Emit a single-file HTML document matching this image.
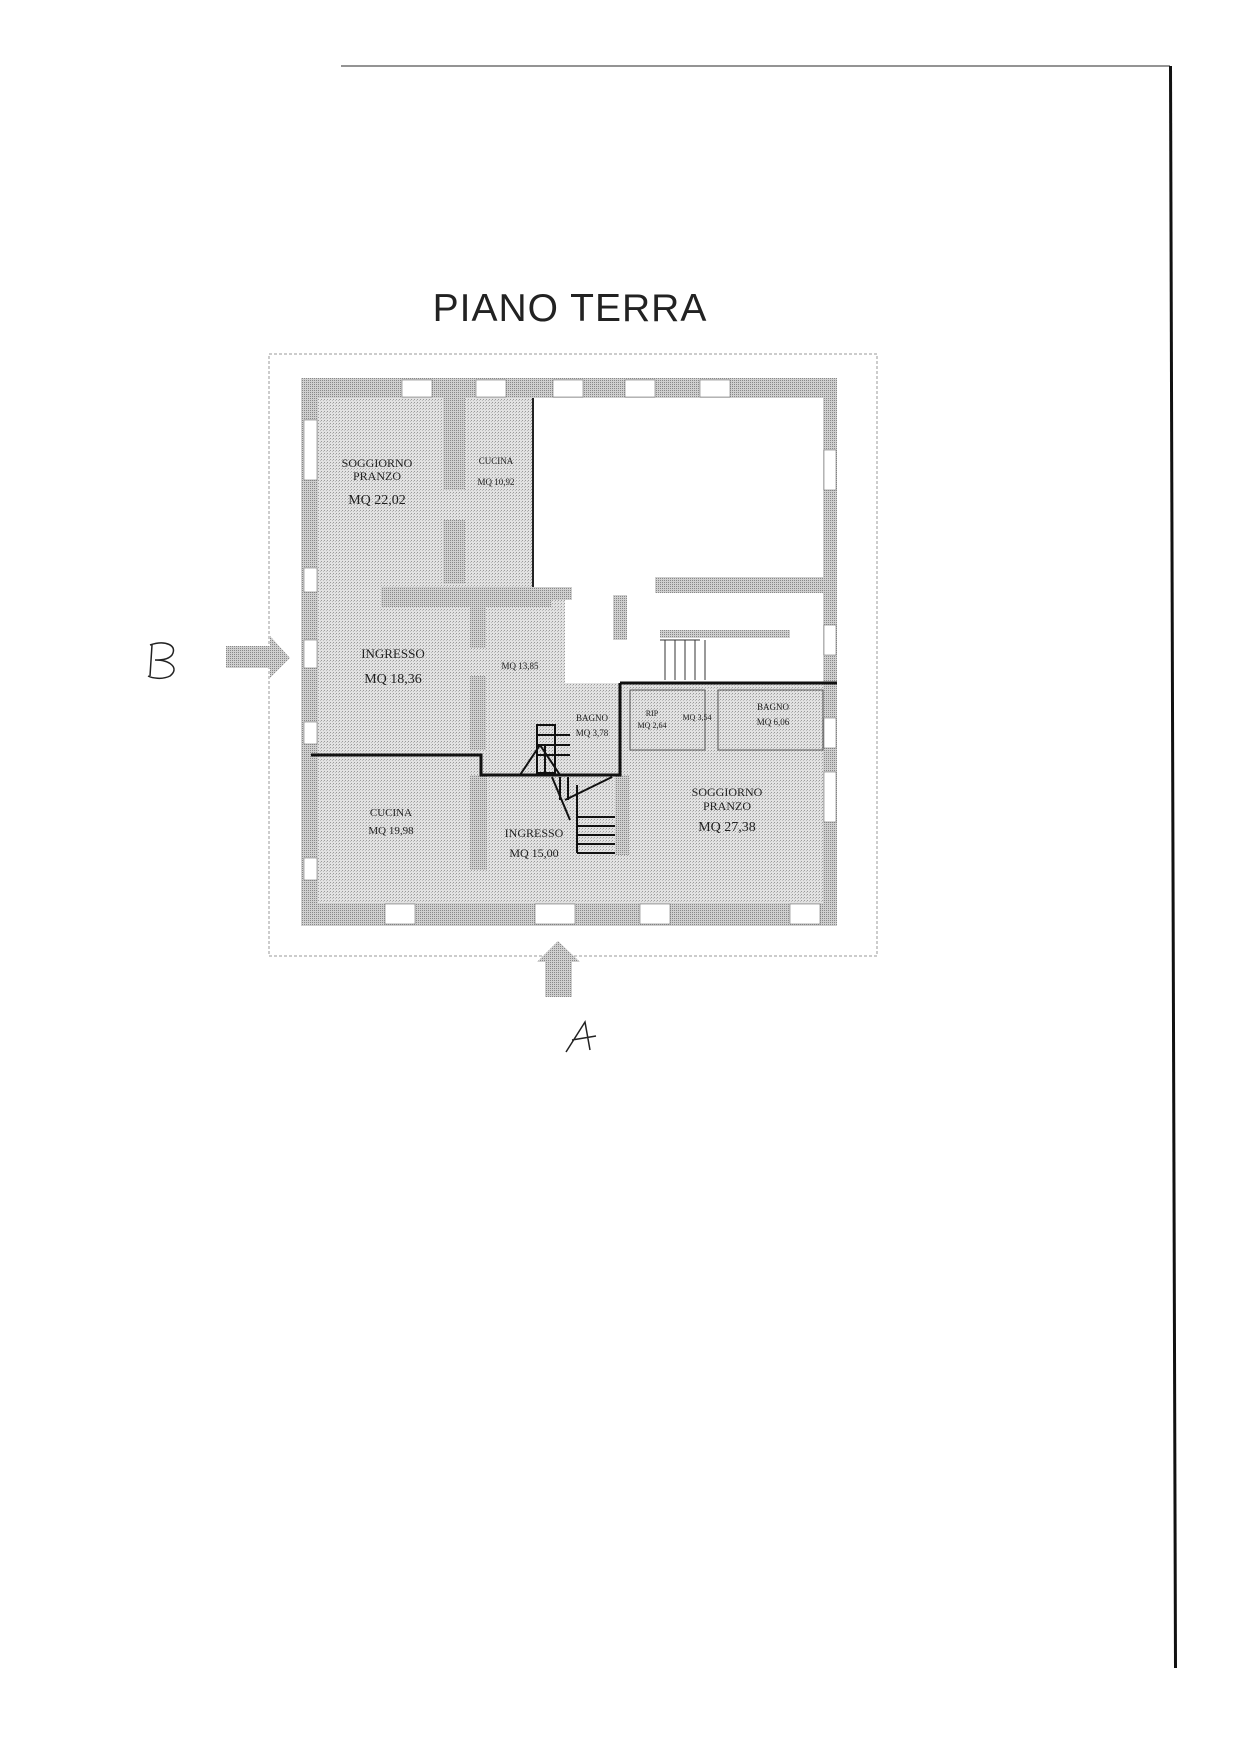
<!DOCTYPE html>
<html><head><meta charset="utf-8"><style>
html,body{margin:0;padding:0;background:#fff;}
svg{display:block;}
text{font-family:"Liberation Serif",serif;fill:#222;}
</style></head><body>
<svg width="1241" height="1755" viewBox="0 0 1241 1755" xmlns="http://www.w3.org/2000/svg">
<defs>
<pattern id="dots" width="3" height="3" patternUnits="userSpaceOnUse">
<rect width="3" height="3" fill="#e2e2e2"/><rect width="1" height="1" fill="#999"/><rect x="2" y="1" width="1" height="1" fill="#bbb"/>
</pattern>
<pattern id="wall" width="2" height="2" patternUnits="userSpaceOnUse">
<rect width="2" height="2" fill="#cfcfcf"/><rect width="1" height="1" fill="#888"/>
</pattern>
</defs>
<line x1="341" y1="66" x2="1170" y2="66" stroke="#555" stroke-width="1.2"/>
<polygon points="1169,66 1172,66 1177,1668 1174,1668" fill="#111"/>

<text x="570" y="321" text-anchor="middle" style="font-family:'Liberation Sans',sans-serif;font-size:39px;letter-spacing:1px">PIANO TERRA</text>

<rect x="269" y="354" width="608" height="602" fill="none" stroke="#999" stroke-width="1" stroke-dasharray="3 2"/>

<rect x="301" y="378" width="536" height="548" fill="url(#wall)"/>
<rect x="318" y="398" width="505" height="505" fill="url(#dots)"/>
<rect x="443" y="398" width="22" height="92" fill="url(#wall)"/>
<rect x="443" y="520" width="22" height="64" fill="url(#wall)"/>
<rect x="381" y="587" width="170" height="20" fill="url(#wall)"/>
<rect x="470" y="607" width="16" height="41" fill="url(#wall)"/>
<rect x="470" y="676" width="16" height="74" fill="url(#wall)"/>
<rect x="470" y="775" width="17" height="95" fill="url(#wall)"/>
<rect x="615" y="775" width="14" height="80" fill="url(#wall)"/>
<rect x="304" y="420" width="13" height="60" fill="#fff" stroke="#777" stroke-width="0.6"/>
<rect x="304" y="568" width="13" height="24" fill="#fff" stroke="#777" stroke-width="0.6"/>
<rect x="304" y="640" width="13" height="28" fill="#fff" stroke="#777" stroke-width="0.6"/>
<rect x="304" y="722" width="13" height="22" fill="#fff" stroke="#777" stroke-width="0.6"/>
<rect x="304" y="858" width="13" height="22" fill="#fff" stroke="#777" stroke-width="0.6"/>
<rect x="824" y="450" width="12" height="40" fill="#fff" stroke="#777" stroke-width="0.6"/>
<rect x="824" y="625" width="12" height="30" fill="#fff" stroke="#777" stroke-width="0.6"/>
<rect x="824" y="718" width="12" height="30" fill="#fff" stroke="#777" stroke-width="0.6"/>
<rect x="824" y="772" width="12" height="50" fill="#fff" stroke="#777" stroke-width="0.6"/>
<rect x="402" y="380" width="30" height="17" fill="#fff" stroke="#777" stroke-width="0.6"/>
<rect x="476" y="380" width="30" height="17" fill="#fff" stroke="#777" stroke-width="0.6"/>
<rect x="553" y="380" width="30" height="17" fill="#fff" stroke="#777" stroke-width="0.6"/>
<rect x="625" y="380" width="30" height="17" fill="#fff" stroke="#777" stroke-width="0.6"/>
<rect x="700" y="380" width="30" height="17" fill="#fff" stroke="#777" stroke-width="0.6"/>
<rect x="385" y="904" width="30" height="20" fill="#fff" stroke="#777" stroke-width="0.6"/>
<rect x="535" y="904" width="40" height="20" fill="#fff" stroke="#777" stroke-width="0.6"/>
<rect x="640" y="904" width="30" height="20" fill="#fff" stroke="#777" stroke-width="0.6"/>
<rect x="790" y="904" width="30" height="20" fill="#fff" stroke="#777" stroke-width="0.6"/>

<rect x="532" y="398" width="291" height="189" fill="#fff"/>
<line x1="533" y1="398" x2="533" y2="587" stroke="#222" stroke-width="2"/>
<rect x="565" y="587" width="258" height="96" fill="#fff"/>
<rect x="532" y="587" width="40" height="13" fill="url(#wall)"/>
<rect x="613" y="595" width="14" height="45" fill="url(#wall)"/>
<rect x="655" y="577" width="168" height="16" fill="url(#wall)"/>
<rect x="660" y="630" width="130" height="8" fill="url(#wall)"/>
<line x1="660" y1="640" x2="700" y2="640" stroke="#333"/>
<g stroke="#333" stroke-width="1">
<line x1="665" y1="640" x2="665" y2="680"/><line x1="675" y1="640" x2="675" y2="680"/><line x1="685" y1="640" x2="685" y2="680"/><line x1="695" y1="640" x2="695" y2="680"/><line x1="705" y1="640" x2="705" y2="680"/>
</g>

<rect x="630" y="690" width="75" height="60" fill="none" stroke="#555" stroke-width="1"/>
<rect x="718" y="690" width="105" height="60" fill="none" stroke="#555" stroke-width="1"/>

<g stroke="#111" stroke-width="3" fill="none">
<polyline points="620,683 837,683"/>
<polyline points="311,755 481,755 481,775 620,775 620,683"/>
</g>

<g stroke="#111" stroke-width="2" fill="none">
<rect x="537" y="725" width="18" height="48"/>
<line x1="537" y1="735" x2="570" y2="735"/><line x1="537" y1="745" x2="570" y2="745"/><line x1="537" y1="755" x2="570" y2="755"/>
<line x1="520" y1="775" x2="540" y2="745"/><line x1="540" y1="745" x2="560" y2="775"/><line x1="545" y1="745" x2="545" y2="775"/>
<line x1="552" y1="777" x2="570" y2="820"/><line x1="560" y1="777" x2="560" y2="800"/><line x1="568" y1="777" x2="568" y2="800"/>
<line x1="565" y1="800" x2="612" y2="777"/><line x1="577" y1="785" x2="577" y2="853"/>
<line x1="577" y1="817" x2="615" y2="817"/><line x1="577" y1="826" x2="615" y2="826"/><line x1="577" y1="835" x2="615" y2="835"/><line x1="577" y1="844" x2="615" y2="844"/><line x1="577" y1="853" x2="615" y2="853"/>
</g>

<g text-anchor="middle">
<text x="377" y="467" font-size="12">SOGGIORNO</text>
<text x="377" y="480" font-size="12">PRANZO</text>
<text x="377" y="504" font-size="14">MQ 22,02</text>
<text x="496" y="464" font-size="9">CUCINA</text>
<text x="496" y="485" font-size="9">MQ 10,92</text>
<text x="393" y="658" font-size="13">INGRESSO</text>
<text x="393" y="683" font-size="14">MQ 18,36</text>
<text x="520" y="669" font-size="9">MQ 13,85</text>
<text x="592" y="721" font-size="9">BAGNO</text>
<text x="592" y="736" font-size="9">MQ 3,78</text>
<text x="652" y="716" font-size="8">RIP</text>
<text x="652" y="728" font-size="8">MQ 2,64</text>
<text x="697" y="720" font-size="8">MQ 3,54</text>
<text x="773" y="710" font-size="9">BAGNO</text>
<text x="773" y="725" font-size="9">MQ 6,06</text>
<text x="727" y="796" font-size="12">SOGGIORNO</text>
<text x="727" y="810" font-size="12">PRANZO</text>
<text x="727" y="831" font-size="14">MQ 27,38</text>
<text x="391" y="816" font-size="11">CUCINA</text>
<text x="391" y="834" font-size="11">MQ 19,98</text>
<text x="534" y="837" font-size="12">INGRESSO</text>
<text x="534" y="857" font-size="12">MQ 15,00</text>
</g>

<polygon points="226,646 270,646 270,636 290,658 270,678 270,668 226,668" fill="url(#wall)"/>
<polygon points="545,997 545,962 537,962 558,941 580,962 572,962 572,997" fill="url(#wall)"/>

<path d="M150,645 C165,640 178,645 172,655 C168,660 160,660 155,660 C170,660 180,668 170,676 C162,680 152,678 148,676 M152,645 L150,676" fill="none" stroke="#222" stroke-width="1.5"/>
<path d="M566,1052 L585,1022 L590,1050 M572,1040 L596,1036" fill="none" stroke="#222" stroke-width="1.5"/>
</svg>
</body></html>
